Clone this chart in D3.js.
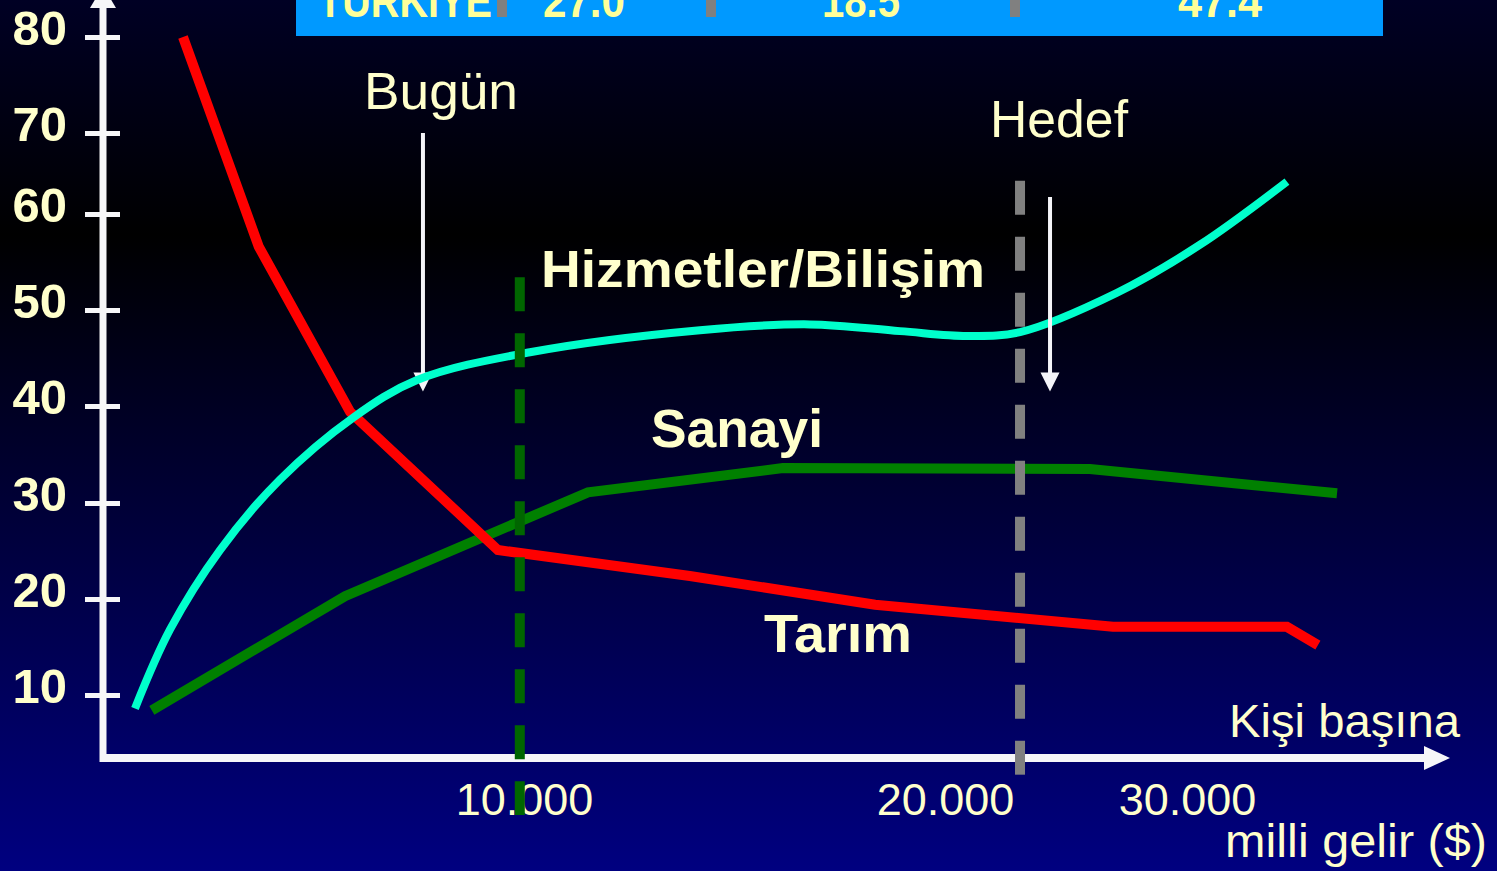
<!DOCTYPE html>
<html>
<head>
<meta charset="utf-8">
<script src="https://cdn.jsdelivr.net/npm/d3@7"></script>
<style>
  html, body { margin: 0; padding: 0; background: #000; overflow: hidden; }
</style>
</head>
<body>
<div id="chart"></div>
<script>
// -----------------------------
// DATA
// -----------------------------
const Y_TICKS = [10, 20, 30, 40, 50, 60, 70, 80];
const X_TICKS = [10000, 20000, 30000];

// Tarım (agriculture)
const TARIM_X = [1900, 3700, 5870, 9380, 13940, 18340, 26940, 34130, 35410];
const TARIM_Y = [80, 56.6, 39.4, 25.1, 22.4, 19.4, 17.1, 17.1, 15.2];

// Sanayi (industry)
const SANAYI_X = [1160, 5750, 11520, 16150, 25990, 36200];
const SANAYI_Y = [8.4, 20.3, 31.1, 33.6, 33.5, 31.0];

// Hizmetler/Bilişim (services)
const HIZMET_X = [760, 1590, 2780, 4200, 5940, 7460, 10140, 14180, 16790, 18930, 20910, 23100, 27110, 30540, 34130];
const HIZMET_Y = [8.6, 16.8, 25.1, 32.4, 38.8, 42.7, 45.6, 47.9, 48.5, 47.8, 47.3, 47.7, 51.8, 56.8, 64.0];

// marker lines: Bugün (today) and Hedef (target)
const MARKER_X = [9900, 23100];
const MARKER_TOP = [53.4, 64.1];
const MARKER_BOTTOM = [-2.5, 1.7];
const ARROW_X = [7600, 24340];
const ARROW_TOP = [70, 62.1];
const ARROW_BOTTOM = [41.5, 41.5];

// banner row at the top of the slide
const BANNER_TEXT = ["TÜRKİYE", "27.0", "18.5", "47.4"];

// -----------------------------
// LAYOUT
// -----------------------------
const W = 1497, H = 871;
const FONT = "'Liberation Sans', Arial, sans-serif";
const CREAM = "#FFFFCC";
const AXIS = "#F6F6F8";

const svg = d3.select("#chart").append("svg")
  .attr("width", W).attr("height", H)
  .style("display", "block");

const defs = svg.append("defs");
const grad = defs.append("linearGradient")
  .attr("id", "bg").attr("x1", 0).attr("y1", 0).attr("x2", 0).attr("y2", 1);
grad.append("stop").attr("offset", "0%").attr("stop-color", "#000024");
grad.append("stop").attr("offset", "27%").attr("stop-color", "#000000");
grad.append("stop").attr("offset", "100%").attr("stop-color", "#000080");

svg.append("rect").attr("width", W).attr("height", H).attr("fill", "url(#bg)");

// hand drawn slide axes: piecewise scales
const x = d3.scaleLinear()
  .domain([0, 10000, 20000, 30000])
  .range([103, 524, 945, 1187]);

const y = d3.scaleLinear()
  .domain(Y_TICKS)
  .range([695, 599, 503, 406, 310, 214, 133, 37]);

const trFormat = d3.formatLocale({
  decimal: ",", thousands: ".", grouping: [3], currency: ["", "$"]
}).format(",d");

// -----------------------------
// BANNER (cut off by the slide edge)
// -----------------------------
svg.append("rect")
  .attr("x", 296).attr("y", 0).attr("width", 1087).attr("height", 36)
  .attr("fill", "#0099FF");

const bannerPos = [
  { cx: 405, w: 174 }, { cx: 584, w: 82 }, { cx: 861, w: 78 }, { cx: 1220, w: 84 }
];
BANNER_TEXT.forEach((t, i) => {
  svg.append("text")
    .attr("x", bannerPos[i].cx - bannerPos[i].w / 2)
    .attr("y", 17)
    .attr("textLength", bannerPos[i].w)
    .attr("lengthAdjust", "spacingAndGlyphs")
    .attr("font-family", FONT)
    .attr("font-weight", "bold")
    .attr("font-size", 46)
    .attr("fill", "#FFFF99")
    .text(t);
});
[497, 706, 1010].forEach(sx => {
  svg.append("rect")
    .attr("x", sx).attr("y", 0).attr("width", 10).attr("height", 17)
    .attr("fill", "#808080");
});

// -----------------------------
// AXES
// -----------------------------
svg.append("line")
  .attr("x1", 103).attr("x2", 103).attr("y1", -10).attr("y2", 762)
  .attr("stroke", AXIS).attr("stroke-width", 7);
svg.append("path")
  .attr("d", "M103,-14 L116,8 L90,8 Z")
  .attr("fill", AXIS);

svg.append("line")
  .attr("x1", 100).attr("x2", 1426).attr("y1", 758).attr("y2", 758)
  .attr("stroke", AXIS).attr("stroke-width", 8);
svg.append("path")
  .attr("d", "M1424,746 L1450,758 L1424,770 Z")
  .attr("fill", AXIS);

svg.append("g")
  .attr("transform", "translate(103,0)")
  .call(d3.axisLeft(y).tickValues(Y_TICKS).tickSize(0).tickPadding(36))
  .call(g => g.select(".domain").remove())
  .call(g => g.selectAll(".tick line")
    .attr("x1", -18).attr("x2", 17)
    .attr("stroke", AXIS).attr("stroke-width", 5))
  .call(g => g.selectAll(".tick text")
    .attr("fill", CREAM)
    .attr("font-family", FONT)
    .attr("font-weight", "bold")
    .attr("font-size", 49)
    .attr("dy", "0.16em"));

svg.append("g")
  .attr("transform", "translate(0,758)")
  .call(d3.axisBottom(x).tickValues(X_TICKS).tickSize(0).tickPadding(25).tickFormat(trFormat))
  .call(g => g.select(".domain").remove())
  .call(g => g.selectAll(".tick text")
    .attr("fill", CREAM)
    .attr("font-family", FONT)
    .attr("font-size", 45));

// -----------------------------
// "Bugün" arrow (under the curves)
// -----------------------------
function drawArrow(i) {
  const ax = x(ARROW_X[i]);
  const top = y(ARROW_TOP[i]);
  const tip = y(ARROW_BOTTOM[i]);
  svg.append("line")
    .attr("x1", ax).attr("x2", ax).attr("y1", top).attr("y2", tip - 14)
    .attr("stroke", "#F4F4F8").attr("stroke-width", 4);
  svg.append("path")
    .attr("d", `M${ax - 9.5},${tip - 19} L${ax + 9.5},${tip - 19} L${ax},${tip} Z`)
    .attr("fill", "#F4F4F8");
}
drawArrow(0);

// -----------------------------
// SERIES
// -----------------------------
const lineStraight = d3.line().x(d => x(d[0])).y(d => y(d[1]));
const lineSmooth = d3.line().x(d => x(d[0])).y(d => y(d[1])).curve(d3.curveCatmullRom.alpha(0.5));

svg.append("path")
  .datum(d3.zip(SANAYI_X, SANAYI_Y))
  .attr("d", lineStraight)
  .attr("fill", "none").attr("stroke", "#008000").attr("stroke-width", 10);

svg.append("path")
  .datum(d3.zip(TARIM_X, TARIM_Y))
  .attr("d", lineStraight)
  .attr("fill", "none").attr("stroke", "#FF0000").attr("stroke-width", 10);

svg.append("path")
  .datum(d3.zip(HIZMET_X, HIZMET_Y))
  .attr("d", lineSmooth)
  .attr("fill", "none").attr("stroke", "#00FFCC").attr("stroke-width", 8);

// -----------------------------
// DASHED MARKERS
// -----------------------------
const markerColors = ["#006600", "#808080"];
MARKER_X.forEach((mx, i) => {
  svg.append("line")
    .attr("x1", x(mx)).attr("x2", x(mx))
    .attr("y1", y(MARKER_TOP[i])).attr("y2", y(MARKER_BOTTOM[i]))
    .attr("stroke", markerColors[i])
    .attr("stroke-width", 10)
    .attr("stroke-dasharray", "34,22");
});

drawArrow(1);

// -----------------------------
// LABELS
// -----------------------------
const labels = [
  { t: "Bugün", x: 364, y: 109, size: 52, bold: false, len: 154 },
  { t: "Hedef", x: 990, y: 137, size: 52, bold: false, len: 138 },
  { t: "Hizmetler/Bilişim", x: 541, y: 287, size: 52, bold: true, len: 444 },
  { t: "Sanayi", x: 651, y: 447, size: 53, bold: true, len: 172 },
  { t: "Tarım", x: 764, y: 652, size: 53, bold: true, len: 148 },
  { t: "Kişi başına", x: 1229, y: 737, size: 47, bold: false, len: 231 },
  { t: "milli gelir ($)", x: 1225, y: 857, size: 47, bold: false, len: 262 }
];
labels.forEach(l => {
  svg.append("text")
    .attr("x", l.x).attr("y", l.y)
    .attr("textLength", l.len)
    .attr("lengthAdjust", "spacingAndGlyphs")
    .attr("font-family", FONT)
    .attr("font-size", l.size)
    .attr("font-weight", l.bold ? "bold" : "normal")
    .attr("fill", CREAM)
    .text(l.t);
});
</script>
</body>
</html>
